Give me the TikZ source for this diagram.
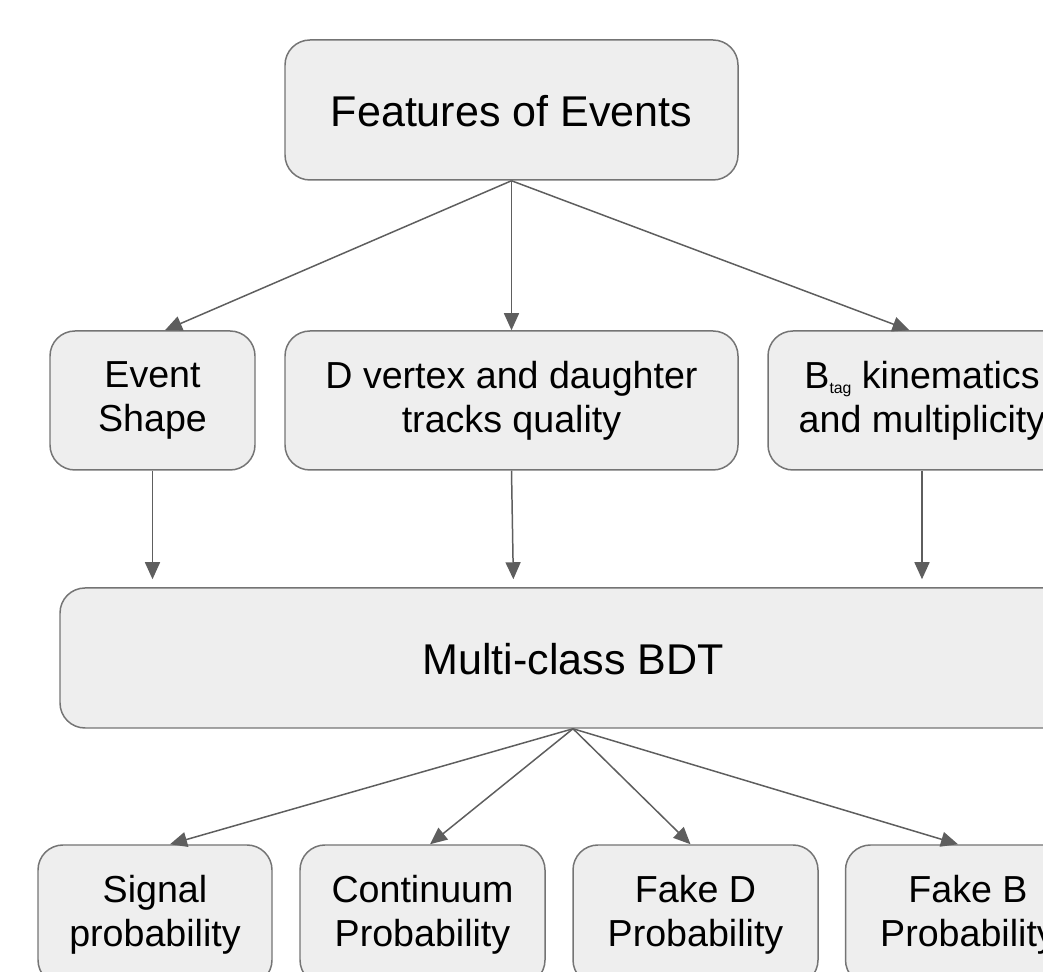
\documentclass[tikz,border=0pt]{standalone}
\usepackage{fontspec}
\setmainfont{Liberation Sans}
\usetikzlibrary{shapes, arrows.meta, positioning}
\definecolor{boxfill}{HTML}{EEEEEE}
\definecolor{boxline}{HTML}{747474}
\definecolor{arrowcol}{HTML}{5E5E5E}
\begin{document}
\begin{tikzpicture}[
            box/.style={draw=boxline, fill=boxfill, line width=0.85pt, rectangle, rounded corners=0.5cm, minimum height=2.8cm, inner sep=0pt, align=center, font=\fontsize{21.4}{25}\selectfont, execute at begin node={\rule{0pt}{19.5pt}}},
            bigbox/.style={box, font=\fontsize{24.5}{29}\selectfont, execute at begin node={}},
            arr/.style={draw=arrowcol, line width=0.85pt, -{Triangle[length=0.34cm, width=0.3cm]}}]
            \useasboundingbox (0,0) rectangle (20.86,-19.44);
            \clip (0,0) rectangle (20.86,-19.44);

            \node[bigbox, minimum width=9.06cm] (feat) at (10.23,-2.2) {Features of Events};

            \node[box, minimum width=4.1cm, minimum height=2.78cm] (shape) at (3.05,-8.01) {Event\\Shape};
            \node[box, minimum width=9.06cm, minimum height=2.78cm] (dvtx) at (10.23,-8.01) {D vertex and daughter\\tracks quality};
            \node[box, minimum width=6.16cm, minimum height=2.78cm] (btag) at (18.44,-8.01) {B\raisebox{-0.25ex}{\fontsize{9}{9}\selectfont tag} kinematics\\and multiplicity};

            \node[bigbox, minimum width=20.52cm] (bdt) at (11.46,-13.16) {Multi-class BDT};

            \node[box, minimum width=4.68cm] (sig) at (3.1,-18.3) {Signal\\probability};
            \node[box, minimum width=4.9cm] (cont) at (8.45,-18.3) {Continuum\\Probability};
            \node[box, minimum width=4.9cm] (faked) at (13.91,-18.3) {Fake D\\Probability};
            \node[box, minimum width=4.9cm] (fakeb) at (19.36,-18.3) {Fake B\\Probability};

            \draw[arr] (feat.south) -- ([xshift=0.25cm]shape.north);
            \draw[arr] (feat.south) -- (dvtx.north);
            \draw[arr] (feat.south) -- ([xshift=-0.25cm]btag.north);

            \draw[arr, shorten >=0.16cm] (shape.south) -- (shape.south |- bdt.north);
            \draw[arr, shorten >=0.16cm] (dvtx.south) -- ([xshift=0.04cm]dvtx.south |- bdt.north);
            \draw[arr, shorten >=0.16cm] (btag.south) -- (btag.south |- bdt.north);

            \draw[arr] (bdt.south) -- ([xshift=0.3cm]sig.north);
            \draw[arr] (bdt.south) -- ([xshift=0.15cm]cont.north);
            \draw[arr] (bdt.south) -- ([xshift=-0.1cm]faked.north);
            \draw[arr] (bdt.south) -- ([xshift=-0.2cm]fakeb.north);
        \end{tikzpicture}
\end{document}
